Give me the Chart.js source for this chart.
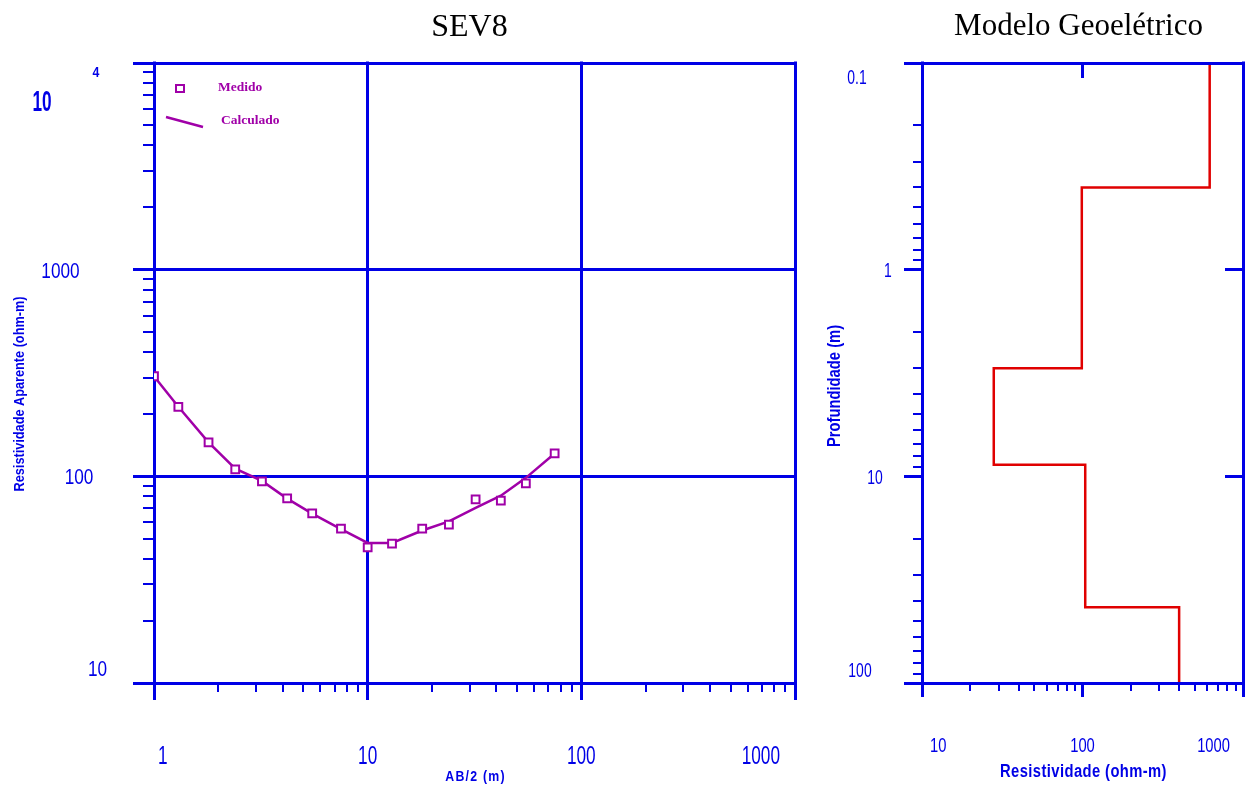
<!DOCTYPE html>
<html>
<head>
<meta charset="utf-8">
<script src="https://cdn.jsdelivr.net/npm/chart.js@4.4.0/dist/chart.umd.min.js"></script>
<style>
  body { margin: 0; background: #fff; }
  #wrap { position: relative; width: 1248px; height: 791px; overflow: hidden; }
  canvas { position: absolute; top: 0; }
  #sev { left: 0; }
  #modelo { left: 820px; }
</style>
</head>
<body>
<div id="wrap">
  <canvas id="sev" width="820" height="791"></canvas>
  <canvas id="modelo" width="428" height="791"></canvas>
</div>
<script>
// SEV8 - AB/2 (m) x resistividade aparente (ohm-m)
const abHalf = [1, 1.3, 1.8, 2.4, 3.2, 4.2, 5.5, 7.5, 10, 13, 18, 24, 32, 42, 55, 75];
const rhoMedido = [305, 217, 146, 108, 94.6, 78.2, 66.2, 55.8, 45.3, 47.3, 55.8, 58.4, 77.3, 76.2, 92.5, 129];
const rhoCalculado = [305, 217, 146, 109, 95, 78, 66, 55.5, 47.6, 47.6, 54.7, 60.5, 70.3, 80.6, 98.3, 129];

// modelo geoeletrico: resistividade de cada camada e profundidade da base (m)
const layerRes = [620, 99, 28, 104, 400];
const layerBase = [0.4, 3.0, 8.8, 43];

// ticks (decadas)
const sevXTicks = [1, 10, 100, 1000];
const sevYTicks = [10, 100, 1000, 10000];
const resTicks = [10, 100, 1000];
const depthTicks = [0.1, 1, 10, 100];

const BLUE = '#0000e6';
const PURPLE = '#a000a8';
const RED = '#e00000';
const SANS = '"Liberation Sans", Arial, sans-serif';
const SERIF = '"Liberation Serif", "Times New Roman", serif';
const NARROW_X = 0.82; // squeeze Liberation Sans to look like Arial Narrow
// x offsets of the depth labels from the axis (the original is not aligned)
const depthLabelDx = [-65, -34, -47, -62];

function seg(ctx, x1, y1, x2, y2) {
  ctx.beginPath();
  ctx.moveTo(x1, y1);
  ctx.lineTo(x2, y2);
  ctx.stroke();
}
function crisp(p) {
  return Math.floor(p) + 0.5;
}
function minors(ticks) {
  const out = [];
  for (let i = 0; i < ticks.length - 1; i++)
    for (let k = 2; k <= 9; k++) out.push(ticks[i] * k);
  return out;
}
// text with its cap height centred on y
function put(ctx, s, x, y, o) {
  const size = o.size, sy = o.sy || 1, sx = o.sx || NARROW_X;
  ctx.save();
  ctx.font = (o.weight || 'normal') + ' ' + size + 'px ' + (o.family || SANS);
  ctx.textAlign = o.align || 'center';
  ctx.textBaseline = 'alphabetic';
  if (o.spacing) ctx.letterSpacing = o.spacing;
  ctx.translate(x, y + (o.cap || 0.72) * size * sy / 2);
  ctx.scale(sx, sy);
  ctx.fillText(s, 0, 0);
  ctx.restore();
}
function title(ctx, s, x, y, o) {
  ctx.save();
  ctx.font = 'bold ' + o.size + 'px ' + SANS;
  ctx.textAlign = 'center';
  ctx.textBaseline = 'middle';
  if (o.spacing) ctx.letterSpacing = o.spacing;
  ctx.translate(x, y);
  if (o.rot) ctx.rotate(-Math.PI / 2);
  ctx.scale(NARROW_X, 1);
  ctx.fillText(s, 0, 0);
  ctx.restore();
}

const sevFrame = {
  id: 'sevFrame',
  beforeDatasetsDraw(chart) {
    const { ctx, chartArea: a, scales: { x, y } } = chart;
    ctx.save();
    ctx.strokeStyle = BLUE;
    ctx.lineWidth = 3;
    sevYTicks.forEach(v => {
      const p = crisp(y.getPixelForValue(v));
      seg(ctx, a.left - 21, p, a.right + 1.5, p);
    });
    sevXTicks.forEach(v => {
      const p = crisp(x.getPixelForValue(v));
      seg(ctx, p, a.top - 1.5, p, a.bottom + 17);
    });
    ctx.lineWidth = 2;
    minors(sevYTicks).forEach(v => {
      const p = Math.round(y.getPixelForValue(v));
      seg(ctx, a.left - 11, p, a.left, p);
    });
    minors(sevXTicks).forEach(v => {
      const p = Math.round(x.getPixelForValue(v));
      seg(ctx, p, a.bottom, p, a.bottom + 9);
    });

    // tick labels
    ctx.fillStyle = BLUE;
    sevYTicks.forEach(v => {
      const e = Math.round(Math.log10(v));
      const cx = a.left - 112 + 18.5 * (4 - e);
      if (e >= 4) {
        put(ctx, '10', cx, a.top + 37, { size: 21, sy: 1.4, weight: 'bold' });
        put(ctx, String(e), a.left - 58, a.top + 9, { size: 15, weight: 'bold' });
      } else {
        const py = Math.min(y.getPixelForValue(v), a.bottom - 15);
        put(ctx, String(v), cx, py, { size: 21, sy: 1.05 });
      }
    });
    sevXTicks.forEach((v, i) => {
      const px = x.getPixelForValue(v);
      const o = { size: 21, sy: 1.25 };
      if (i === 0) put(ctx, String(v), px + 4, a.bottom + 72, { ...o, align: 'left' });
      else if (i === sevXTicks.length - 1) put(ctx, String(v), px - 15, a.bottom + 72, { ...o, align: 'right' });
      else put(ctx, String(v), px, a.bottom + 72, o);
    });

    // axis titles
    title(ctx, 'Resistividade Aparente (ohm-m)', a.left - 134, (a.top + a.bottom) / 2 + 21, { size: 15.5, rot: true });
    title(ctx, 'AB/2 (m)', (a.left + a.right) / 2 + 1, a.bottom + 94, { size: 15, spacing: '1.5px' });

    ctx.fillStyle = '#000';
    put(ctx, 'SEV8', (a.left + a.right) / 2 - 5, 25, { size: 32, family: SERIF, sx: 1, cap: 0.66 });
    ctx.restore();
  },
  afterDatasetsDraw(chart) {
    const { ctx, chartArea: a } = chart;
    const med = chart.data.datasets[0];
    const calc = chart.data.datasets[1];
    ctx.save();
    ctx.strokeStyle = med.borderColor;
    ctx.fillStyle = '#fff';
    ctx.lineWidth = 2;
    ctx.fillRect(a.left + 22, a.top + 22, 8, 7);
    ctx.strokeRect(a.left + 22, a.top + 22, 8, 7);
    ctx.strokeStyle = calc.borderColor;
    ctx.lineWidth = 2.5;
    seg(ctx, a.left + 12, a.top + 54, a.left + 49, a.top + 64);
    ctx.fillStyle = PURPLE;
    ctx.font = 'bold 13.5px ' + SERIF;
    ctx.textBaseline = 'middle';
    ctx.textAlign = 'left';
    ctx.fillText(med.label, a.left + 64, a.top + 25);
    ctx.fillText(calc.label, a.left + 67, a.top + 58);
    ctx.restore();
  },
};

const modelFrame = {
  id: 'modelFrame',
  afterDatasetsDraw(chart) {
    const { ctx, chartArea: a, scales: { x, y } } = chart;
    ctx.save();
    ctx.strokeStyle = BLUE;
    ctx.lineWidth = 3;
    depthTicks.forEach((v, i) => {
      const p = crisp(y.getPixelForValue(v));
      if (i === 0 || i === depthTicks.length - 1) {
        seg(ctx, a.left - 18, p, a.right + 1.5, p);
      } else {
        seg(ctx, a.left - 18, p, a.left, p);
        seg(ctx, a.right - 18, p, a.right, p);
      }
    });
    resTicks.forEach((v, i) => {
      const p = crisp(x.getPixelForValue(v));
      if (i === 0 || i === resTicks.length - 1) {
        seg(ctx, p, a.top - 1.5, p, a.bottom + 14);
      } else {
        seg(ctx, p, a.bottom, p, a.bottom + 14);
        seg(ctx, p, a.top, p, a.top + 15);
      }
    });
    ctx.lineWidth = 2;
    minors(depthTicks).forEach(v => {
      const p = Math.round(y.getPixelForValue(v));
      seg(ctx, a.left - 9, p, a.left, p);
    });
    minors(resTicks).forEach(v => {
      const p = Math.round(x.getPixelForValue(v));
      seg(ctx, p, a.bottom, p, a.bottom + 8);
    });

    ctx.fillStyle = BLUE;
    depthTicks.forEach((v, i) => {
      const py = Math.min(Math.max(y.getPixelForValue(v), a.top + 14), a.bottom - 13);
      put(ctx, String(v), a.left + depthLabelDx[i], py, { size: 17, sy: 1.2 });
    });
    resTicks.forEach((v, i) => {
      const px = x.getPixelForValue(v);
      const o = { size: 18, sy: 1.1 };
      if (i === 0) put(ctx, String(v), px + 8, a.bottom + 62, { ...o, align: 'left' });
      else if (i === resTicks.length - 1) put(ctx, String(v), px - 13, a.bottom + 62, { ...o, align: 'right' });
      else put(ctx, String(v), px, a.bottom + 62, o);
    });
    title(ctx, 'Profundidade (m)', a.left - 87, (a.top + a.bottom) / 2 + 13, { size: 18, rot: true });
    title(ctx, 'Resistividade (ohm-m)', (a.left + a.right) / 2 + 1, a.bottom + 89, { size: 18, spacing: '0.5px' });

    ctx.fillStyle = '#000';
    put(ctx, 'Modelo Geoelétrico', (a.left + a.right) / 2 - 4, 25, { size: 31, family: SERIF, sx: 1, cap: 0.66 });
    ctx.restore();
  },
};

const sevConfig = {
  type: 'scatter',
  data: {
    datasets: [
      {
        label: 'Medido',
        data: abHalf.map((v, i) => ({ x: v, y: rhoMedido[i] })),
        showLine: false,
        pointStyle: 'rect',
        pointRadius: 5.5,
        pointBorderWidth: 2,
        borderColor: PURPLE,
        backgroundColor: '#fff',
        order: 0,
      },
      {
        label: 'Calculado',
        data: abHalf.map((v, i) => ({ x: v, y: rhoCalculado[i] })),
        showLine: true,
        borderColor: PURPLE,
        borderWidth: 2.5,
        pointRadius: 0,
        order: 1,
      },
    ],
  },
  options: {
    responsive: false,
    animation: false,
    devicePixelRatio: 1,
    layout: { padding: { left: 154, right: 25, top: 63, bottom: 108 } },
    plugins: { legend: { display: false }, title: { display: false }, tooltip: { enabled: false } },
    scales: {
      x: { type: 'logarithmic', min: sevXTicks[0], max: sevXTicks[sevXTicks.length - 1], display: false },
      y: { type: 'logarithmic', min: sevYTicks[0], max: sevYTicks[sevYTicks.length - 1], display: false },
    },
  },
  plugins: [sevFrame],
};

// step profile built from the layers
const modelPts = [{ x: layerRes[0], y: depthTicks[0] }];
layerBase.forEach((d, i) => {
  modelPts.push({ x: layerRes[i], y: d }, { x: layerRes[i + 1], y: d });
});
modelPts.push({ x: layerRes[layerRes.length - 1], y: depthTicks[depthTicks.length - 1] });

const modelConfig = {
  type: 'scatter',
  data: {
    datasets: [
      {
        label: 'Modelo',
        data: modelPts,
        showLine: true,
        borderColor: RED,
        borderWidth: 2.5,
        pointRadius: 0,
      },
    ],
  },
  options: {
    responsive: false,
    animation: false,
    devicePixelRatio: 1,
    layout: { padding: { left: 102, right: 5, top: 63, bottom: 108 } },
    plugins: { legend: { display: false }, title: { display: false }, tooltip: { enabled: false } },
    scales: {
      x: { type: 'logarithmic', min: resTicks[0], max: resTicks[resTicks.length - 1], display: false },
      y: { type: 'logarithmic', reverse: true, min: depthTicks[0], max: depthTicks[depthTicks.length - 1], display: false },
    },
  },
  plugins: [modelFrame],
};

new Chart(document.getElementById('sev'), sevConfig);
new Chart(document.getElementById('modelo'), modelConfig);
</script>
</body>
</html>
